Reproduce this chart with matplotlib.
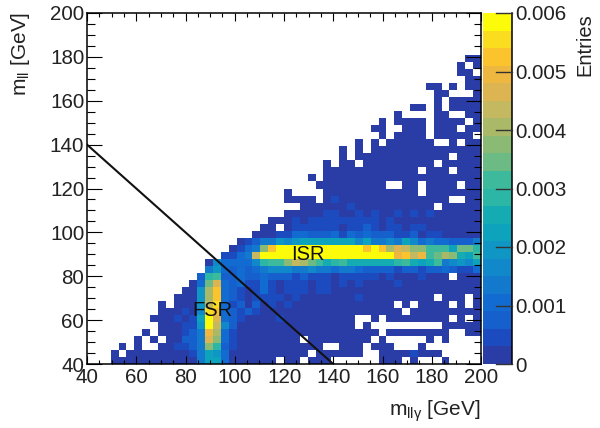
import numpy as np
import matplotlib
matplotlib.use("Agg")
import matplotlib.pyplot as plt
from matplotlib.colors import ListedColormap, BoundaryNorm

plt.rcParams["font.family"] = ["Liberation Sans"]
plt.rcParams["mathtext.fontset"] = "custom"
plt.rcParams["mathtext.rm"] = "Liberation Sans"
plt.rcParams["mathtext.it"] = "Liberation Sans"
plt.rcParams["mathtext.default"] = "regular"
plt.rcParams["text.color"] = "#222222"
plt.rcParams["xtick.labelcolor"] = "#222222"
plt.rcParams["ytick.labelcolor"] = "#222222"

# colour band of each bin, top row (m_ll ~ 200) first
# . = empty, 0-9 then a-j = band number, each band is 0.0003 wide
band_rows = [
    "..... ..... ..... ..... ..... ..... ..... ..... ..... .....",
    "..... ..... ..... ..... ..... ..... ..... ..... ..... .....",
    "..... ..... ..... ..... ..... ..... ..... ..... ..... .....",
    "..... ..... ..... ..... ..... ..... ..... ..... ..... .....",
    "..... ..... ..... ..... ..... ..... ..... ..... ..... .....",
    "..... ..... ..... ..... ..... ..... ..... ..... ..... .....",
    "..... ..... ..... ..... ..... ..... ..... ..... ..... ...00",
    "..... ..... ..... ..... ..... ..... ..... ..... ..... ..0.0",
    "..... ..... ..... ..... ..... ..... ..... ..... ..... ..00.",
    "..... ..... ..... ..... ..... ..... ..... ..... ..... ...00",
    "..... ..... ..... ..... ..... ..... ..... ..... ...00 .0.00",
    "..... ..... ..... ..... ..... ..... ..... ..... ....0 0...0",
    "..... ..... ..... ..... ..... ..... ..... ..... ....0 .0000",
    "..... ..... ..... ..... ..... ..... ..... ..... .00.0 .0000",
    "..... ..... ..... ..... ..... ..... ..... ....0 ....0 0..00",
    "..... ..... ..... ..... ..... ..... ..... ..0.0 000.0 000.0",
    "..... ..... ..... ..... ..... ..... ..... .00.. 000.0 00.00",
    "..... ..... ..... ..... ..... ..... ..... ..0.0 000.0 0000.",
    "..... ..... ..... ..... ..... ..... ....0 .0.00 0000. .0.00",
    "..... ..... ..... ..... ..... ..... ..0.0 .0000 00000 00000",
    "..... ..... ..... ..... ..... ..... ..0.0 00000 00000 0.000",
    "..... ..... ..... ..... ..... ..... 0.00. 00000 0000. 00000",
    "..... ..... ..... ..... ..... ..... 00000 00000 00.00 0.000",
    "..... ..... ..... ..... ..... ...0. 00000 00000 00000 00000",
    "..... ..... ..... ..... ..... ....0 00000 000.. 00.00 00.00",
    "..... ..... ..... ..... ..... 0.... 00000 00000 00.00 00000",
    "..... ..... ..... ..... ..... 0000. 01000 00000 00000 0..00",
    "..... ..... ..... ..... ..... ..000 00010 00000 0000. 00000",
    "..... ..... ..... ..... ..... 00000 11001 01001 01010 00000",
    "..... ..... ..... ..... ...00 01011 11111 11010 00000 00000",
    "..... ..... ..... ..... ..00. 01111 11011 21011 01100 00000",
    "..... ..... ..... ..... .0001 13322 23132 32221 12011 00000",
    "..... ..... ..... ....0 12446 56777 77775 74454 75343 32224",
    "..... ..... ..... ...01 34chj jjjjj jjjjj hjhdf eccaa a7bb9",
    "..... ..... ..... ..113 4ejjj jjjjj jjjjj jjjjg hegab dc87a",
    "..... ..... ..... 05333 359aa cedba 89a88 88889 a878a 45657",
    "..... ..... ..... 46323 23455 54454 43443 22221 22122 32113",
    "..... ..... ....2 9a223 22322 21211 10111 11010 00100 0.000",
    "..... ..... ...03 bf323 11310 11101 10101 00001 00000 00000",
    "..... ..... ..006 dh321 01310 11101 10000 00000 00000 00000",
    "..... ..... .0006 dh321 01111 01000 00001 00000 0000. 000.0",
    "..... ....0 .0006 ei312 02010 10000 00000 0000. 0.000 0.0.0",
    "..... ....0 00105 ih321 21000 00000 00000 00000 .0000 00000",
    "..... ...00 01017 jf321 00001 00000 0000. .0.00 00000 0.0.0",
    "..... ....0 00116 je520 00000 00000 0000. 0.... ..... 00000",
    "..... ..0.0 00124 gd310 00000 00000 00000 00.00 00000 0..00",
    "..... .0.0. 00224 fc310 00000 00.00 00000 0.0.. ...0. 0....",
    "....0 .0..0 01124 c9210 00000 00000 ..000 .000. ..0.. .....",
    "...0. 00000 00014 76300 00000 000.0 00000 ..000 01000 .....",
    "...00 00000 00004 77300 0000. 00.00 0.... ..000 .0... 0....",
]

band_colors = ["#2a3da6", "#1b4bbf", "#1560cd", "#126bd0", "#1279cc",
               "#1088ca", "#0f96c4", "#0ea3bd", "#14acb2", "#2cb6a5",
               "#3dba9b", "#6cbb84", "#8bba74", "#aab968", "#c4b860",
               "#dcb552", "#eeb73f", "#fbc32c", "#f9dd1e", "#fbfb0a"]

cbar_ticks = [0, 0.001, 0.002, 0.003, 0.004, 0.005, 0.006]
cbar_labels = ["0", "0.001", "0.002", "0.003", "0.004", "0.005", "0.006"]

band_width = 0.0003
digits = "0123456789abcdefghij"

entries = []
for row in band_rows[::-1]:
    vals = [np.nan if c == "." else (digits.index(c) + 0.5) * band_width
            for c in row.replace(" ", "")]
    entries.append(vals)
entries = np.ma.masked_invalid(np.array(entries))

levels = np.linspace(0, 0.006, 21)
cmap = ListedColormap(band_colors)
norm = BoundaryNorm(levels, cmap.N)

fig = plt.figure(figsize=(6, 4.28), dpi=100)
W, H = 600.0, 428.0
ax = fig.add_axes([87 / W, 1 - 364 / H, 394 / W, 351 / H])
# imshow rather than pcolormesh, the mesh left pale seams between the bins
mesh = ax.imshow(entries, origin="lower", extent=(40, 200, 40, 200), aspect="auto",
                 cmap=cmap, norm=norm, interpolation="nearest")

ax.plot([40, 140], [140, 40], color="#111111", lw=1.5)
ax.text(129.7, 89.7, "ISR", fontsize=14.5, ha="center", va="center", color="#111111")
ax.text(90.8, 64.6, "FSR", fontsize=14.5, ha="center", va="center", color="#111111")

ax.set_xlim(40, 200)
ax.set_ylim(40, 200)
ax.set_xticks(np.arange(40, 201, 20))
ax.set_yticks(np.arange(40, 201, 20))
ax.set_xticks(np.arange(40, 201, 5), minor=True)
ax.set_yticks(np.arange(40, 201, 5), minor=True)
ax.tick_params(axis="x", which="major", direction="in", top=True, length=5.8, width=0.8,
               labelsize=14.9, pad=3)
ax.tick_params(axis="x", which="minor", direction="in", top=True, length=2.9, width=0.8)
ax.tick_params(axis="y", which="major", direction="in", right=True, length=10.8, width=0.8,
               labelsize=14.9, pad=2)
ax.tick_params(axis="y", which="minor", direction="in", right=True, length=5.4, width=0.8)
for s in ax.spines.values():
    s.set_linewidth(1.1)

fig.text(481 / W, 1 - 411 / H, r"m$_{ll\gamma}$ [GeV]", fontsize=15, ha="right", va="center")
fig.text(21 / W, 1 - 12 / H, r"m$_{ll}$ [GeV]", fontsize=15, rotation=90, ha="center", va="top")

cax = fig.add_axes([483 / W, 1 - 364 / H, 28.5 / W, 351 / H])
cbar = fig.colorbar(mesh, cax=cax, ticks=cbar_ticks)
cbar.ax.set_yticklabels(cbar_labels)
cbar.ax.minorticks_off()
cbar.ax.tick_params(which="major", length=0, labelsize=14.9, pad=3)
cbar.outline.set_visible(False)
cax.plot([1, 1], [0, 1], transform=cax.transAxes, color="black", lw=1.1, clip_on=False)

# the colorbar's own ticks stayed hidden behind the bands, so draw them on top
tick_tf = cax.get_yaxis_transform()
for t in cbar_ticks:
    cax.plot([0.47, 1], [t, t], transform=tick_tf, color="#333333", lw=1.0, zorder=6, clip_on=False)

fig.text(585 / W, 1 - 13 / H, "Entries", fontsize=14.5, rotation=90, ha="center", va="top")

fig.savefig("out.png", dpi=100)
